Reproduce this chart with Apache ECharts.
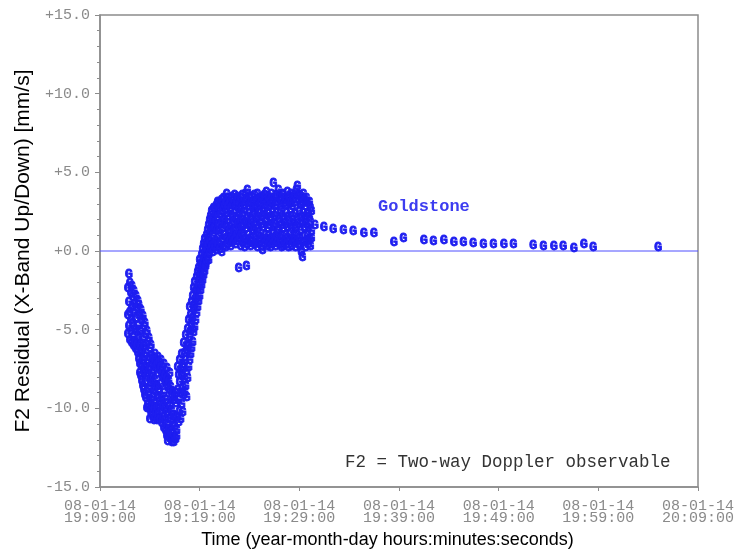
<!DOCTYPE html>
<html>
<head>
<meta charset="utf-8">
<script src="https://cdn.jsdelivr.net/npm/echarts@6/dist/echarts.min.js"></script>
<style>
  html, body { margin: 0; padding: 0; background: #fff; }
  #chart { width: 738px; height: 550px; }
</style>
</head>
<body>
<div id="chart"></div>
<script>
// Time axis: minutes after 2008-01-14 19:09:00
const tickDates = ['08-01-14', '08-01-14', '08-01-14', '08-01-14', '08-01-14', '08-01-14', '08-01-14'];
const tickTimes = ['19:09:00', '19:19:00', '19:29:00', '19:39:00', '19:49:00', '19:59:00', '20:09:00'];
const yTickLabels = ['-15.0', '-10.0', '-5.0', '+0.0', '+5.0', '+10.0', '+15.0'];

// Goldstone F2 residuals [minute, mm/s]
const descentPass = [
  [2.8,-2.4],[2.8,-4.1],[2.8,-5.3],[2.9,-1.5],[2.9,-3.3],[2.9,-4.8],[3.0,-2.1],[3.0,-3.9],[3.0,-5.7],
  [3.1,-2.7],[3.1,-4.4],[3.1,-5.1],[3.2,-2.3],[3.2,-3.6],[3.2,-5.9],[3.3,-3.0],[3.3,-4.6],[3.3,-5.5],
  [3.4,-2.6],[3.4,-4.0],[3.4,-6.1],[3.5,-3.4],[3.5,-5.0],[3.5,-5.8],[3.6,-2.9],[3.6,-4.3],[3.6,-6.3],
  [3.7,-3.7],[3.7,-5.2],[3.7,-6.0],[3.8,-3.2],[3.8,-4.8],[3.8,-6.5],[3.9,-3.5],[3.9,-5.5],[3.9,-6.9],
  [4.0,-4.1],[4.0,-5.1],[4.0,-7.2],[4.0,-7.8],[4.1,-3.8],[4.1,-6.0],[4.1,-6.6],[4.1,-8.0],
  [4.2,-4.4],[4.2,-5.7],[4.2,-7.4],[4.2,-8.3],[4.3,-4.2],[4.3,-6.3],[4.3,-7.0],[4.3,-8.6],
  [4.4,-4.8],[4.4,-6.1],[4.4,-7.8],[4.4,-8.9],[4.5,-4.6],[4.5,-6.8],[4.5,-7.5],[4.5,-9.2],
  [4.6,-5.3],[4.6,-6.5],[4.6,-8.3],[4.6,-9.4],[4.7,-5.1],[4.7,-7.2],[4.7,-8.0],[4.7,-10.0],
  [4.8,-5.8],[4.8,-7.0],[4.8,-8.8],[4.8,-9.8],[4.9,-5.6],[4.9,-7.6],[4.9,-9.2],[4.9,-10.0],
  [5.0,-6.2],[5.0,-7.4],[5.0,-8.6],[5.0,-10.7],[5.1,-6.0],[5.1,-8.1],[5.1,-9.5],[5.1,-10.3],
  [5.2,-6.7],[5.2,-7.8],[5.2,-9.9],[5.2,-10.5],[5.3,-6.9],[5.3,-8.4],[5.3,-9.3],[5.3,-10.4],
  [5.4,-7.2],[5.4,-8.9],[5.4,-10.1],[5.4,-10.8],[5.5,-6.6],[5.5,-7.0],[5.5,-8.3],[5.5,-9.7],[5.5,-10.6],
  [5.6,-7.5],[5.6,-9.0],[5.6,-10.4],[5.7,-7.3],[5.7,-8.6],[5.7,-10.0],[5.7,-10.8],
  [5.8,-6.8],[5.8,-7.8],[5.8,-9.4],[5.8,-10.5],[5.9,-7.1],[5.9,-8.8],[5.9,-9.9],[6.0,-7.6],[6.0,-9.6],[6.0,-10.7],
  [6.1,-7.0],[6.1,-7.4],[6.1,-8.5],[6.1,-10.2],[6.2,-8.0],[6.2,-9.3],[6.2,-11.0],[6.3,-7.7],[6.3,-9.9],[6.3,-10.6],
  [6.4,-7.2],[6.4,-8.2],[6.4,-9.1],[6.4,-11.3],[6.5,-7.9],[6.5,-10.0],[6.5,-10.8],[6.6,-8.4],[6.6,-9.5],[6.6,-11.5],
  [6.7,-7.5],[6.7,-8.1],[6.7,-10.3],[6.7,-11.1],[6.7,-11.8],[6.8,-8.6],[6.8,-9.7],[6.8,-11.8],[6.8,-12.1],[6.9,-8.3],[6.9,-10.5],[6.9,-11.4],
  [7.0,-7.8],[7.0,-8.9],[7.0,-9.9],[7.0,-11.9],[7.1,-8.7],[7.1,-10.7],[7.1,-11.6],[7.2,-9.2],[7.2,-10.2],[7.2,-12.2],
  [7.3,-9.0],[7.3,-11.0],[7.3,-11.7],[7.4,-9.5],[7.4,-10.5],[7.4,-12.2],[7.5,-9.3],[7.5,-11.2],[7.5,-11.9],
  [7.6,-9.7],[7.6,-10.6],[7.6,-12.0],[7.7,-9.1],[7.7,-11.4],[7.7,-11.8]
];

const risePass = [
  [7.8,-7.4],[7.8,-8.9],[7.8,-10.6],[7.9,-7.9],[7.9,-9.5],[7.9,-10.9],[8.0,-7.0],[8.0,-8.4],[8.0,-10.2],
  [8.1,-7.6],[8.1,-9.1],[8.1,-10.7],[8.2,-6.6],[8.2,-8.0],[8.2,-9.8],[8.3,-7.2],[8.3,-8.7],[8.3,-10.3],
  [8.4,-5.9],[8.4,-7.5],[8.4,-9.2],[8.5,-6.5],[8.5,-8.2],[8.5,-9.0],[8.6,-5.4],[8.6,-7.0],[8.6,-8.6],
  [8.7,-6.1],[8.7,-7.7],[8.7,-9.3],[8.8,-5.0],[8.8,-6.4],[8.8,-8.1],[8.9,-4.4],[8.9,-6.0],[8.9,-7.4],
  [9.0,-3.6],[9.0,-5.5],[9.0,-7.0],[9.1,-4.1],[9.1,-5.1],[9.1,-6.6],[9.2,-3.3],[9.2,-4.7],[9.2,-6.2],
  [9.3,-2.9],[9.3,-4.3],[9.3,-5.8],[9.4,-2.4],[9.4,-3.8],[9.4,-5.2],[9.5,-2.0],[9.5,-3.5],[9.5,-4.9],
  [9.6,-2.6],[9.6,-3.1],[9.6,-4.4],[9.7,-1.7],[9.7,-2.9],[9.7,-4.0],[9.8,-1.4],[9.8,-2.5],[9.8,-3.6],
  [9.9,-1.1],[9.9,-2.2],[9.9,-3.2],[10.0,-0.6],[10.0,-1.8],[10.0,-2.9],[10.1,-0.9],[10.1,-1.5],[10.1,-2.5],
  [10.2,-0.3],[10.2,-1.2],[10.2,-2.2],[10.3,0.1],[10.3,-0.8],[10.3,-1.9],[10.4,0.4],[10.4,-0.5],[10.4,-1.6],
  [10.5,0.7],[10.5,-0.2],[10.5,-1.3],[10.6,0.3],[10.6,-0.9],[10.6,-1.0],[10.7,1.0],[10.7,0.1],[10.7,-0.7],
  [10.8,1.3],[10.8,0.4],[10.8,-0.4],[10.9,0.8],[10.9,1.6],[10.9,-0.6],[11.0,1.9],[11.0,0.6],[11.0,-0.2],
  [11.1,1.2],[11.1,2.2],[11.1,0.1],[11.2,1.7],[11.2,0.3],[11.2,2.5],[11.3,2.0],[11.3,0.9],[11.3,-0.1],
  [11.4,2.7],[11.4,1.4],[11.4,0.4]
];

const plateauPass = [
  [11.5,0.2],[11.5,1.5],[11.5,2.6],[11.6,0.6],[11.6,1.9],[11.6,2.3],[11.7,0.0],[11.7,1.2],[11.7,2.9],
  [11.8,0.4],[11.8,2.1],[11.8,3.1],[11.9,0.9],[11.9,1.6],[11.9,2.7],[12.0,0.1],[12.0,1.3],[12.0,3.0],
  [12.1,0.5],[12.1,2.3],[12.1,2.8],[12.2,-0.1],[12.2,1.8],[12.2,3.2],[12.3,0.7],[12.3,1.4],[12.3,2.5],
  [12.4,0.3],[12.4,2.0],[12.4,3.3],[12.5,1.0],[12.5,1.7],[12.5,2.9],[12.6,0.2],[12.6,2.4],[12.6,3.1],
  [12.7,0.8],[12.7,1.5],[12.7,3.6],[12.8,0.4],[12.8,2.2],[12.8,2.8],[12.9,1.1],[12.9,1.9],[12.9,3.3],
  [13.0,0.6],[13.0,1.3],[13.0,3.0],[13.1,0.3],[13.1,2.5],[13.1,2.7],[13.2,0.9],[13.2,1.6],[13.2,3.4],
  [13.3,0.5],[13.3,2.1],[13.3,2.9],[13.4,1.2],[13.4,1.8],[13.4,3.2],[13.5,0.7],[13.5,2.4],[13.5,3.5],
  [13.6,0.4],[13.6,1.4],[13.6,2.8],[13.7,1.0],[13.7,2.0],[13.7,3.1],[13.8,0.6],[13.8,1.7],[13.8,3.4],
  [13.9,-1.15],[13.9,1.3],[13.9,2.6],[14.0,0.8],[14.0,2.3],[14.0,3.0],[14.1,0.3],[14.1,1.9],[14.1,3.3],
  [14.2,1.1],[14.2,1.5],[14.2,2.7],[14.3,0.5],[14.3,2.2],[14.3,3.5],[14.4,0.9],[14.4,1.6],[14.4,3.1],
  [14.5,0.2],[14.5,2.6],[14.5,2.9],[14.6,0.7],[14.6,1.8],[14.6,3.6],[14.7,-1.0],[14.7,1.4],[14.7,3.2],
  [14.8,0.4],[14.8,2.1],[14.8,3.8],[14.9,1.0],[14.9,1.7],[14.9,2.8],[15.0,0.6],[15.0,2.4],[15.0,3.3],
  [15.1,0.3],[15.1,1.5],[15.1,3.0],[15.2,0.8],[15.2,2.0],[15.2,3.4],[15.3,0.5],[15.3,1.3],[15.3,2.7],
  [15.4,1.2],[15.4,2.3],[15.4,3.1],[15.5,0.4],[15.5,1.8],[15.5,3.5],[15.6,0.9],[15.6,2.6],[15.6,2.9],
  [15.7,0.6],[15.7,1.6],[15.7,3.2],[15.8,0.2],[15.8,2.1],[15.8,3.6],[15.9,1.1],[15.9,1.4],[15.9,2.8],
  [16.0,0.5],[16.0,2.4],[16.0,3.3],[16.1,0.8],[16.1,1.9],[16.1,3.0],[16.2,0.3],[16.2,1.7],[16.2,3.4],
  [16.3,0.0],[16.3,2.2],[16.3,2.7],[16.4,0.7],[16.4,1.5],[16.4,3.2],[16.5,0.4],[16.5,2.5],[16.5,3.5],
  [16.6,1.0],[16.6,1.8],[16.6,2.9],[16.7,0.6],[16.7,2.0],[16.7,3.7],[16.8,0.3],[16.8,1.4],[16.8,3.1],
  [16.9,0.9],[16.9,2.3],[16.9,3.4],[17.0,0.5],[17.0,1.6],[17.0,2.8],[17.1,0.2],[17.1,2.1],[17.1,3.2],
  [17.2,0.8],[17.2,1.9],[17.2,3.6],[17.3,0.4],[17.3,2.6],[17.3,3.0],[17.4,1.1],[17.4,1.5],[17.4,4.3],
  [17.5,0.6],[17.5,2.2],[17.5,3.3],[17.6,0.3],[17.6,1.7],[17.6,2.9],[17.7,0.9],[17.7,2.4],[17.7,3.5],
  [17.8,0.5],[17.8,1.3],[17.8,3.1],[17.9,1.2],[17.9,2.0],[17.9,3.8],[18.0,0.4],[18.0,1.8],[18.0,3.4],
  [18.1,0.7],[18.1,2.5],[18.1,2.8],[18.2,0.2],[18.2,1.6],[18.2,3.2],[18.3,0.9],[18.3,2.2],[18.3,3.6],
  [18.4,0.3],[18.4,1.4],[18.4,3.5],[18.5,0.6],[18.5,2.0],[18.5,3.0],[18.6,1.0],[18.6,1.7],[18.6,3.3],
  [18.7,0.4],[18.7,2.4],[18.7,2.9],[18.8,0.8],[18.8,1.5],[18.8,3.7],[18.9,0.2],[18.9,2.1],[18.9,3.1],
  [19.0,0.6],[19.0,1.8],[19.0,3.4],[19.1,1.1],[19.1,2.6],[19.1,3.0],[19.2,0.3],[19.2,1.4],[19.2,3.6],
  [19.3,0.7],[19.3,2.2],[19.3,2.8],[19.4,0.5],[19.4,1.9],[19.4,3.3],[19.5,0.9],[19.5,1.6],[19.5,3.5],
  [19.6,0.2],[19.6,2.3],[19.6,3.1],[19.7,0.6],[19.7,1.5],[19.7,3.8],[19.8,1.0],[19.8,2.0],[19.8,4.1],
  [19.9,0.4],[19.9,1.7],[19.9,3.2],[20.0,0.8],[20.0,2.5],[20.0,3.5],[20.1,0.3],[20.1,1.3],[20.1,2.9],
  [20.2,-0.1],[20.2,2.1],[20.2,3.4],[20.3,-0.4],[20.3,1.8],[20.3,3.0],[20.4,0.5],[20.4,2.4],[20.4,3.6],
  [20.5,0.9],[20.5,1.5],[20.5,3.2],[20.6,0.2],[20.6,2.0],[20.6,2.8],[20.7,0.6],[20.7,1.7],[20.7,3.3],
  [20.8,1.0],[20.8,2.3],[20.8,3.05],[20.9,0.4],[20.9,1.4],[20.9,2.4],[21.0,0.7],[21.0,2.1],[21.0,3.1],
  [21.1,0.3],[21.1,1.8],[21.1,2.7],[21.2,0.8],[21.2,1.2],[21.2,2.5]
];

const tailPass = [
  [21.57,1.59],[22.47,1.48],[23.4,1.38],[24.41,1.31],[25.41,1.21],[26.49,1.12],[27.49,1.10],
  [29.5,0.53],[30.43,0.78],[32.5,0.68],[33.44,0.59],[34.5,0.64],[35.5,0.53],[36.45,0.53],
  [37.45,0.49],[38.46,0.42],[39.46,0.42],[40.53,0.42],[41.47,0.42],[43.47,0.32],[44.48,0.27],
  [45.55,0.27],[46.48,0.27],[47.55,0.17],[48.56,0.42],[49.49,0.21],[56.0,0.21]
];

const zeroLine = [[0, 0], [60, 0]];

const residuals = descentPass.concat(risePass, plateauPass, tailPass);

const chart = echarts.init(document.getElementById('chart'));
const grayText = '#8a8a8a';
const frameGray = '#8c8c8c';
const monoFont = '"Liberation Mono", "DejaVu Sans Mono", monospace';
const markBlue = '#1e1ef0';

chart.setOption({
  animation: false,
  backgroundColor: '#fff',
  grid: {
    left: 100, right: 40, top: 15, bottom: 63,
    outerBoundsMode: 'none', containLabel: false,
    show: true, borderColor: frameGray, borderWidth: 1.5
  },
  xAxis: {
    type: 'value', min: 0, max: 60, interval: 10,
    name: 'Time (year-month-day hours:minutes:seconds)',
    nameLocation: 'middle', nameGap: 44,
    nameTextStyle: { fontFamily: '"Liberation Sans", Arial, sans-serif', fontSize: 18, color: '#000', padding: [0, 23, 0, 0] },
    axisLine: { onZero: false, lineStyle: { color: frameGray, width: 1.5 } },
    axisTick: { show: true, inside: false, length: 4, lineStyle: { color: frameGray } },
    splitLine: { show: false },
    axisLabel: {
      margin: 13,
      fontFamily: monoFont, fontSize: 15, lineHeight: 12, color: grayText,
      formatter: v => { const i = Math.round(v / 10); return tickDates[i] + '\n' + tickTimes[i]; }
    }
  },
  yAxis: {
    type: 'value', min: -15, max: 15, interval: 5,
    name: 'F2 Residual (X-Band Up/Down) [mm/s]',
    nameLocation: 'middle', nameGap: 60, nameRotate: 90,
    nameTextStyle: { fontFamily: '"Liberation Sans", Arial, sans-serif', fontSize: 21, color: '#000' },
    axisLine: { show: true, onZero: false, lineStyle: { color: frameGray, width: 1.5 } },
    axisTick: { show: true, inside: false, length: 5, lineStyle: { color: frameGray } },
    minorTick: { show: true, splitNumber: 5, length: 3, lineStyle: { color: frameGray } },
    splitLine: { show: false },
    axisLabel: {
      margin: 10,
      fontFamily: monoFont, fontSize: 15, color: grayText,
      formatter: v => yTickLabels[Math.round((v + 15) / 5)]
    }
  },
  graphic: [
    { type: 'text', left: 378, top: 198, style: { text: 'Goldstone', font: 'bold 17px ' + monoFont, fill: '#3c3cf0' } },
    { type: 'text', left: 345, top: 453, style: { text: 'F2 = Two-way Doppler observable', font: '17.5px ' + monoFont, fill: '#333' } }
  ],
  series: [
    {
      type: 'line', data: zeroLine, symbol: 'none', silent: true,
      lineStyle: { color: '#4f4fff', width: 1 }, z: 1
    },
    {
      type: 'custom', data: residuals, z: 2,
      encode: { x: 0, y: 1 },
      renderItem: (params, api) => {
        const p = api.coord([api.value(0), api.value(1)]);
        return {
          type: 'text', x: p[0], y: p[1],
          style: {
            text: 'G', font: 'bold 13px ' + monoFont, fill: markBlue,
            stroke: markBlue, lineWidth: 0.9, align: 'center', verticalAlign: 'middle'
          }
        };
      }
    }
  ]
});
</script>
</body>
</html>
